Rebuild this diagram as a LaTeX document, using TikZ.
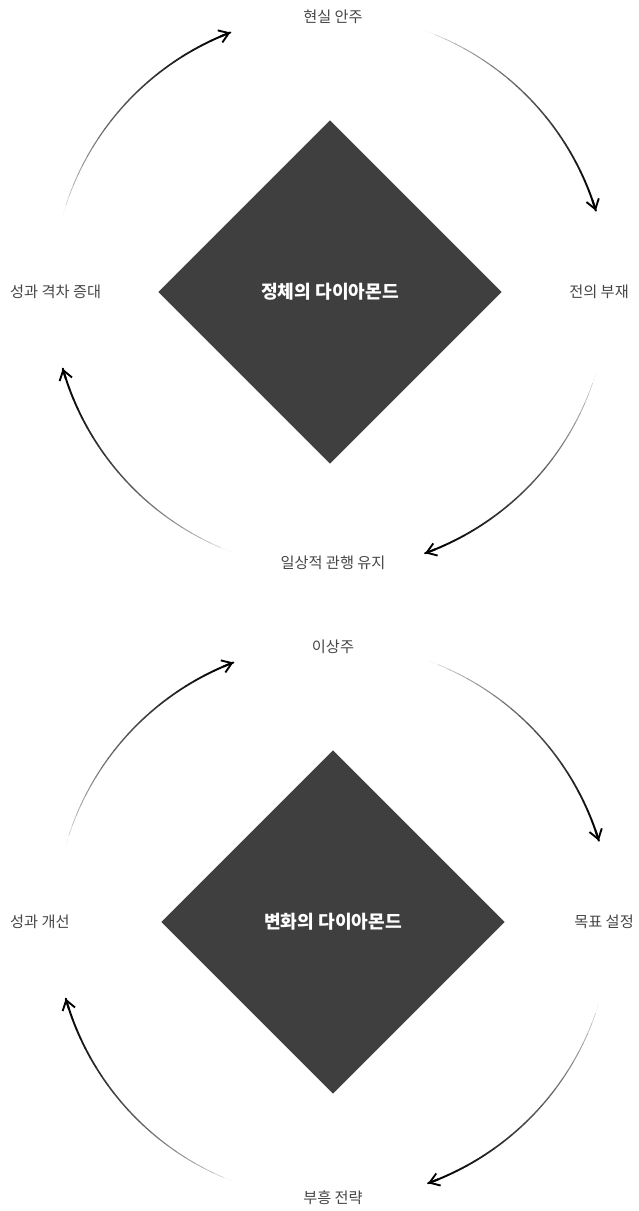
\documentclass[tikz,border=0pt]{standalone}
\usepackage{fontspec}
\setmainfont{Noto Sans CJK KR}
\usepackage{xcolor}
\usetikzlibrary{shapes.geometric,arrows.meta}
\definecolor{diaGray}{RGB}{63,63,63}
\definecolor{labelGray}{RGB}{70,70,70}

% fading arc: centre node, start angle, end angle
\newcommand{\fadearc}[3]{%
  \foreach \k in {0,...,23}{%
    \pgfmathsetmacro{\aa}{#2+(#3-#2)*\k/24}%
    \pgfmathsetmacro{\bb}{#2+(#3-#2)*(\k+1)/24}%
    \pgfmathsetmacro{\shade}{5+95*(\k/23)^0.6}%
    \pgfmathsetmacro{\lw}{0.4+1.3*(\k/23)^0.7}%
    \draw[black!\shade,line width=\lw pt,line cap=round] ([shift={(\aa:8.34)}]#1.center) arc[start angle=\aa,end angle=\bb,radius=8.34];
  }%
  \pgfmathsetmacro{\cc}{#3-(#3-#2)/24}%
  \draw[black,line width=1.6pt,-{Straight Barb[length=8pt,width=11pt]}] ([shift={(\cc:8.34)}]#1.center) arc[start angle=\cc,end angle=#3,radius=8.34];
}

\begin{document}
\begin{tikzpicture}[x=1cm,y=1cm]
\path[use as bounding box] (0,0) rectangle (19.17,-36.33);
\tikzset{
  stepdia/.style={diamond,aspect=1,fill=diaGray,minimum width=10.3cm,minimum height=10.3cm,inner sep=0pt,text=white,font=\bfseries\fontsize{15.5}{17}\selectfont},
  steplabel/.style={text=labelGray,font=\fontsize{13}{15}\selectfont,inner sep=0pt}
}

% Diamond 1 - stagnation
\node[stepdia] (stag) at (9.90,-8.76) {정체의 다이아몬드};
\node[steplabel] (stagTop) at (9.99,-0.51) {현실 안주};
\node[steplabel,anchor=east] (stagRight) at (18.87,-8.76) {전의 부재};
\node[steplabel] (stagBottom) at (9.99,-16.89) {일상적 관행 유지};
\node[steplabel,anchor=west] (stagLeft) at (0.30,-8.76) {성과 격차 증대};
\fadearc{stag}{164}{111}
\fadearc{stag}{70}{17}
\fadearc{stag}{-17}{-70}
\fadearc{stag}{-111}{-164}

% Diamond 2 - change
\node[stepdia] (chg) at (9.99,-27.66) {변화의 다이아몬드};
\node[steplabel] (chgTop) at (9.99,-19.41) {이상주};
\node[steplabel,anchor=east] (chgRight) at (19.02,-27.66) {목표 설정};
\node[steplabel] (chgBottom) at (9.99,-35.94) {부흥 전략};
\node[steplabel,anchor=west] (chgLeft) at (0.30,-27.66) {성과 개선};
\fadearc{chg}{164}{111}
\fadearc{chg}{70}{17}
\fadearc{chg}{-17}{-70}
\fadearc{chg}{-111}{-164}
\end{tikzpicture}
\end{document}
